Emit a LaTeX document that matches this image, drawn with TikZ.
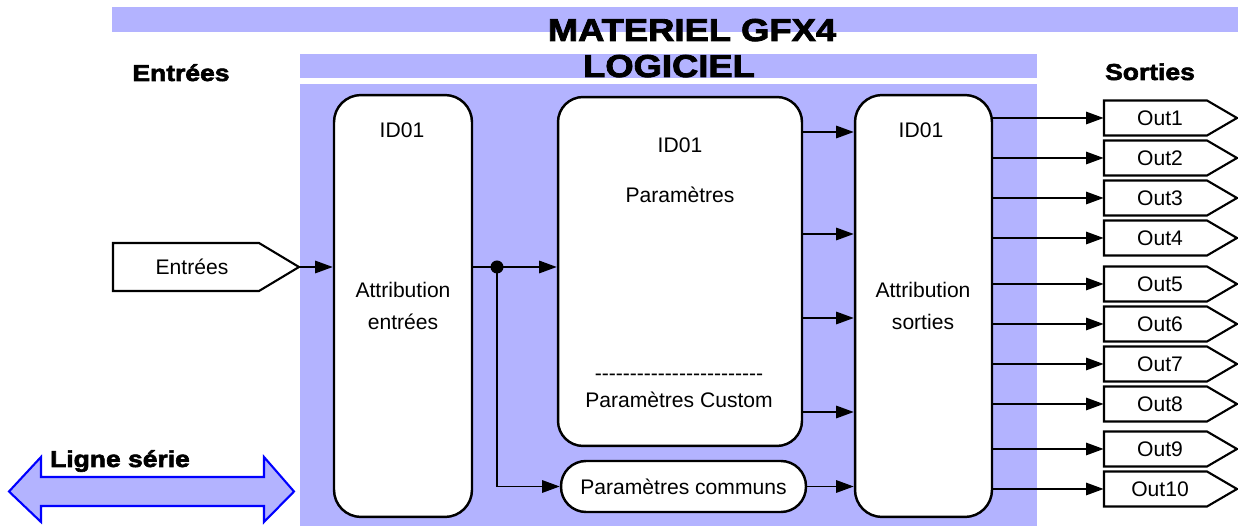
\documentclass[tikz,border=0pt]{standalone}
\usepackage{fontspec}
\setmainfont{Liberation Sans}[Ligatures=TeXOff]
\newfontfamily\heavyfont{Liberation Sans}[BoldFeatures={FakeBold=2.6,FakeStretch=1.15}]
\usetikzlibrary{
  arrows.meta,calc
}
\definecolor{bandblue}{RGB}{179,179,255}

\tikzset{
  band/.style={fill=bandblue},
  block/.style={draw,line width=1.4pt,fill=white,rounded corners=0.54cm,font=\fontsize{12}{14}\selectfont},
  sigline/.style={draw,line width=1.2pt,fill=white},
  sigtxt/.style={inner sep=0pt,font=\fontsize{12}{14}\selectfont},
  conn/.style={-{Triangle[length=10pt,width=7pt]},line width=1.1pt},
  txt/.style={anchor=base,font=\fontsize{12}{14}\selectfont},
  head/.style={anchor=base,font=\heavyfont\bfseries\fontsize{18}{20}\selectfont},
  sub/.style={anchor=base,font=\heavyfont\bfseries\fontsize{13.1}{15}\selectfont},
}

\begin{document}
\begin{tikzpicture}[x=0.02cm,y=-0.02cm]
  \useasboundingbox (0,0) rectangle (1238,526);

  % materiel / logiciel bands
  \fill[band] (112,7) rectangle (1238,32);
  \fill[band] (300,54) rectangle (1037,78);
  \fill[band] (300,84) rectangle (1037,526);

  \node[head] (materiel) at (692,41) {MATERIEL GFX4};
  \node[head] (logiciel) at (669,77) {LOGICIEL};
  \node[sub] (entlbl) at (181,81) {Entrées};
  \node[sub] (sortlbl) at (1150,80) {Sorties};

  % blocks
  \node[block,minimum width=2.76cm,minimum height=8.44cm] (lbox) at (403,306) {};
  \node[block,minimum width=4.88cm,minimum height=6.98cm,rounded corners=0.5cm] (mid) at (680,271.5) {};
  \node[block,minimum width=4.9cm,minimum height=1.02cm,rounded corners=0.5cm] (comm) at (683.5,486.5) {Paramètres communs};
  \node[block,minimum width=2.74cm,minimum height=8.44cm] (rbox) at (923.5,306) {};

  \node[txt] (lid) at (402,138) {ID01};
  \node[txt] (lattr) at (403,298) {Attribution};
  \node[txt] (lent) at (403,330) {entrées};

  \node[txt] (mid1) at (680,153) {ID01};
  \node[txt] (mpar) at (680,203) {Paramètres};
  \node[txt] (mdash) at (679,381) {------------------------};
  \node[txt] (mcust) at (679,408) {Paramètres Custom};

  \node[txt] (rid) at (921,138) {ID01};
  \node[txt] (rattr) at (923,298) {Attribution};
  \node[txt] (rsort) at (923,330) {sorties};

  % entrees
  \draw[sigline] (113,243) -- (259,243) -- (299,267) -- (259,291) -- (113,291) -- cycle;
  \node[sigtxt,minimum width=3.16cm,minimum height=0.96cm] (in) at (192,267) {Entrées};
  \coordinate (intip) at (299,267);

  % sorties
  \foreach \y [count=\i] in {118,158,198,238,284,324,364,404,449,489} {
    \draw[sigline] (1104,\y-17.5) -- (1207,\y-17.5) -- (1237,\y) -- (1207,\y+17.5) -- (1104,\y+17.5) -- cycle;
    \node[sigtxt,minimum width=2.24cm,minimum height=0.7cm] (out\i) at (1160,\y) {Out\i};
  }

  % connectors
  \coordinate (split) at (497,267);
  \draw[conn] (intip) -- (intip -| lbox.west);
  \draw[line width=1.1pt] (intip -| lbox.east) -- (split);
  \fill (split) circle (0.13cm);
  \draw[conn] (split) -- (split -| mid.west);
  \draw[conn] (split) |- (comm.west);
  \foreach \y in {132,234,318,412}
    \draw[conn] (mid.east |- 0,\y) -- (rbox.west |- 0,\y);
  \draw[conn] (comm.east) -- (comm.east -| rbox.west);
  \foreach \i in {1,...,10}
    \draw[conn] (rbox.east |- out\i.west) -- (out\i.west);

  % ligne serie
  \draw[draw=blue,fill=bandblue,line width=1.2pt]
    (9,491.5) -- (41,457) -- (41,477) -- (264,477) -- (264,457) -- (294,491.5)
    -- (264,522) -- (264,506) -- (41,506) -- (41,522) -- cycle;
  \node[sub] (ligne) at (120,467) {Ligne série};
\end{tikzpicture}
\end{document}
